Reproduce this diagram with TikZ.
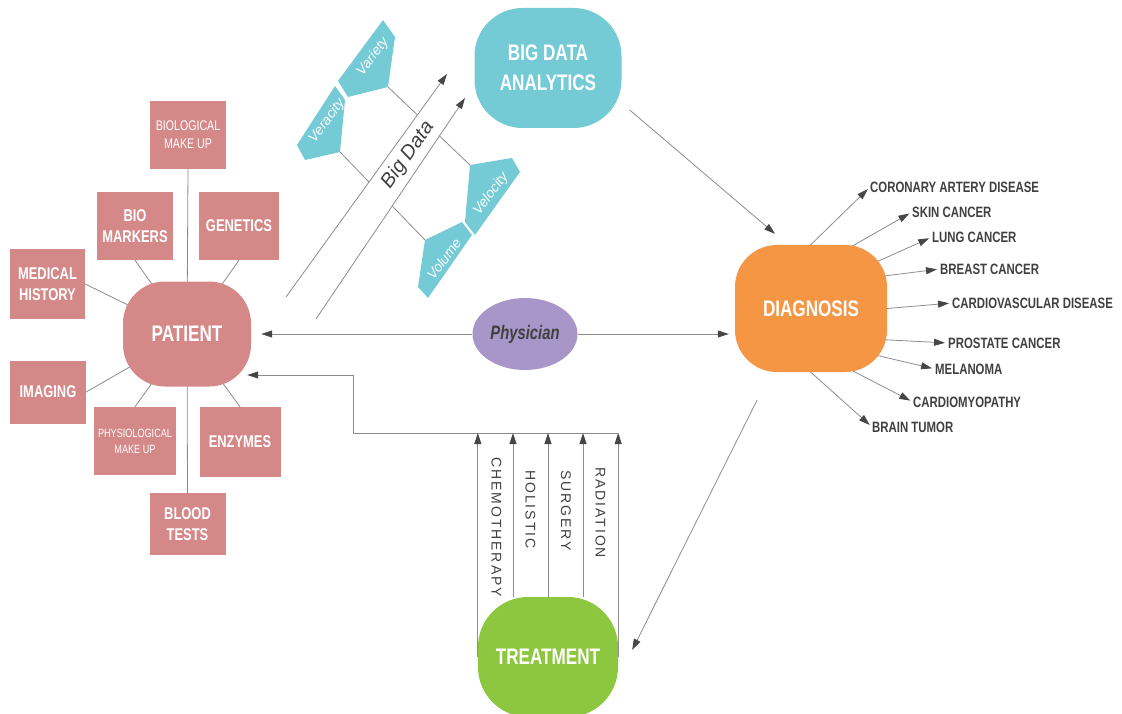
\documentclass[tikz,border=0pt]{standalone}
\usepackage{fontspec}
\setmainfont{Liberation Sans}
\newfontfamily\narrow[FakeStretch=0.76]{Liberation Sans}
\newfontfamily\spaced[LetterSpace=14]{Liberation Sans}
\usetikzlibrary{arrows.meta,shapes.geometric,calc,backgrounds}

\definecolor{rosefill}{RGB}{212,136,136}
\definecolor{bdteal}{RGB}{116,203,214}
\definecolor{dxorange}{RGB}{244,150,68}
\definecolor{txgreen}{RGB}{141,198,63}
\definecolor{lavender}{RGB}{168,150,200}
\definecolor{linegray}{RGB}{140,140,140}
\definecolor{tipgray}{RGB}{70,70,70}
\definecolor{labgray}{RGB}{64,64,64}

\begin{document}
\begin{tikzpicture}[x=1pt,y=-1pt,
  box/.style={fill=rosefill,text=white,minimum width=76pt,minimum height=68pt,inner sep=1pt,align=center,
    font=\narrow\bfseries\fontsize{17}{21}\selectfont},
  thinbox/.style={box,font=\narrow\fontsize{14}{18}\selectfont},
  hub/.style={rounded corners=42pt,text=white,align=center,inner sep=0pt,
    font=\narrow\bfseries\fontsize{22.5}{30}\selectfont},
  link/.style={draw=linegray,line width=0.8pt},
  arr/.style={link,-{Triangle[length=11pt,width=7pt,color=tipgray]}},
  dlab/.style={anchor=west,inner sep=0pt,text=labgray,font=\narrow\bfseries\fontsize{15}{17}\selectfont},
  tlab/.style={rotate=-90,anchor=west,inner sep=0pt,text=labgray,font=\spaced\fontsize{14}{16}\selectfont},
  vtag/.style={fill=bdteal},
  vtext/.style={rotate=53,text=white,inner sep=0pt,font=\itshape\fontsize{14}{16}\selectfont}]
\useasboundingbox (0,0) rectangle (1122,714);

% main nodes
\node[hub,fill=rosefill,minimum width=128pt,minimum height=105pt] (patient) at (187,334) {PATIENT};
\node[hub,fill=bdteal,minimum width=147pt,minimum height=120pt,rounded corners=48pt] (bda) at (548,68) {BIG DATA\\ANALYTICS};
\node[hub,fill=dxorange,minimum width=152pt,minimum height=127pt] (diag) at (811,308.5) {DIAGNOSIS};
\node[hub,fill=txgreen,minimum width=140pt,minimum height=120pt,rounded corners=50pt] (treat) at (548,657) {TREATMENT};
\node[ellipse,fill=lavender,minimum width=105pt,minimum height=72pt,inner sep=0pt,text=labgray,
  font=\narrow\bfseries\itshape\fontsize{19.5}{22}\selectfont] (phys) at (525,334) {Physician};

% patient factors
\node[thinbox] (biomake) at (188,135) {BIOLOGICAL\\MAKE UP};
\node[box] (biomark) at (135,226) {BIO\\MARKERS};
\node[box,minimum width=80pt] (genetics) at (239,226) {GENETICS};
\node[box,minimum width=75pt,minimum height=70pt] (history) at (47.5,284) {MEDICAL\\HISTORY};
\node[box,minimum height=63pt] (imaging) at (48,392) {IMAGING};
\node[thinbox,font=\narrow\fontsize{12}{16}\selectfont,minimum width=82pt] (physio) at (135,441) {PHYSIOLOGICAL\\MAKE UP};
\node[box,minimum width=81pt,minimum height=70pt] (enzymes) at (240,442) {ENZYMES};
\node[box,minimum height=62pt] (blood) at (187.5,524) {BLOOD\\TESTS};

\begin{scope}[on background layer]
  \foreach \b/\a in {biomake/south,biomark/south,genetics/south,history/east,
                     imaging/east,physio/north,enzymes/north,blood/north}
    \draw[link] (\b.\a) -- (patient.center);
\end{scope}

% physician
\draw[arr,shorten >=10pt] (phys) -- (phys -| patient.east);
\draw[arr,shorten >=6pt] (phys) -- (phys -| diag.west);

% big data
\coordinate (bdaS) at (286,297); \coordinate (bdaT) at (447,74);
\coordinate (bdbS) at (316,319); \coordinate (bdbT) at (465,98);
\fill[vtag] (338,81) -- (383,20) -- (395,37) -- (388,87) coordinate (variety) -- (348,97) -- cycle;
\fill[vtag] (335,86) -- (345,100) -- (340,152) coordinate (veracity) -- (305,160) -- (297,145) -- cycle;
\fill[vtag] (470,165) coordinate (velocity) -- (512,158) -- (520,172) -- (475,235) -- (465,222) -- cycle;
\fill[vtag] (425,240) coordinate (volume) -- (462,222) -- (472,235) -- (428,298) -- (418,287) -- cycle;
\node[vtext] (varietyl) at (373,57) {Variety};
\node[vtext] (veracityl) at (327,121) {Veracity};
\node[vtext] (velocityl) at (491,194) {Velocity};
\node[vtext] (volumel) at (444,259) {Volume};
\draw[link] (variety) -- (velocity);
\draw[link] (veracity) -- (volume);
\fill[white] (bdaS) -- (bdaT) -- (bdbT) -- (bdbS) -- cycle;
\draw[arr] (bdaS) -- (bdaT);
\draw[arr] (bdbS) -- (bdbT);
\node[rotate=55,text=labgray,font=\itshape\fontsize{20}{22}\selectfont] (bigdata) at (408,155) {Big Data};

\draw[arr] ($(bda.east)+(8,42)$) -- ($(diag.north)+(-36,-11)$);
\draw[arr] ($(diag.south)+(-54,28)$) -- ($(treat.east)+(14,-7)$);

% diagnoses
\node[dlab] (cad) at (870,187) {CORONARY ARTERY DISEASE};
\node[dlab] (skin) at (912,212) {SKIN CANCER};
\node[dlab] (lung) at (932,237) {LUNG CANCER};
\node[dlab] (breast) at (940,269) {BREAST CANCER};
\node[dlab] (cvd) at (952,303) {CARDIOVASCULAR DISEASE};
\node[dlab] (prostate) at (948,343) {PROSTATE CANCER};
\node[dlab] (melanoma) at (935,369) {MELANOMA};
\node[dlab] (cmp) at (913,402) {CARDIOMYOPATHY};
\node[dlab] (brain) at (872,427) {BRAIN TUMOR};
\begin{scope}[on background layer]
  \foreach \dx/\dy/\t in {-1/-63/cad,37/-60/skin,62/-45/lung,69/-32/breast,76/0/cvd,
                          69/31/prostate,62/46/melanoma,39/61/cmp,-1/63/brain}
    \draw[arr,shorten >=3pt] ($(diag.center)+(\dx,\dy)$) -- (\t.west);
\end{scope}

% treatments
\coordinate (bus) at (353,433);
\coordinate (bend) at (353,375);
\draw[arr] (treat.east |- bus) -- (bus) -- (bend) -- ($(bend -| patient.east)+(-4,0)$);
\foreach \dx in {-35,0,35}
  \draw[arr] (treat.north) ++(\dx,0) coordinate (tx) -- (tx |- bus);
\draw[arr] (treat.west) -- (treat.west |- bus);
\draw[arr] (treat.east) -- (treat.east |- bus);
\node[tlab] (chemo) at (496.5,457) {CHEMOTHERAPY};
\node[tlab] (holistic) at (530.5,470) {HOLISTIC};
\node[tlab] (surgery) at (566,470) {SURGERY};
\node[tlab] (radiation) at (600.5,467) {RADIATION};
\end{tikzpicture}
\end{document}
